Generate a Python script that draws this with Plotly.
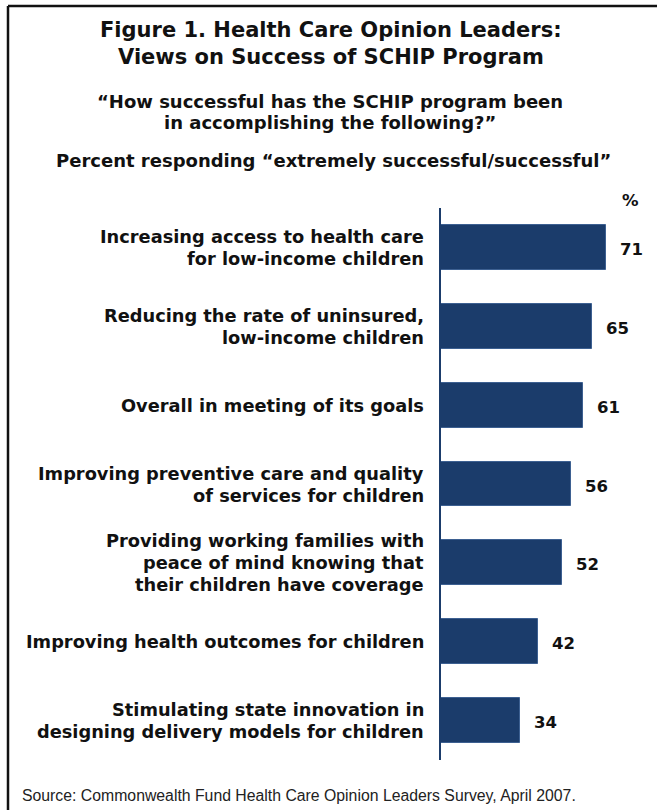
import plotly.graph_objects as go

# Survey items (multi-line labels) and percent answering "extremely successful/successful"
categories = [
    "Increasing access to health care<br>for low-income children",
    "Reducing the rate of uninsured,<br>low-income children",
    "Overall in meeting of its goals",
    "Improving preventive care and quality<br>of services for children",
    "Providing working families with<br>peace of mind knowing that<br>their children have coverage",
    "Improving health outcomes for children",
    "Stimulating state innovation in<br>designing delivery models for children",
]
values = [71, 65, 61, 56, 52, 42, 34]

title_lines = ["Figure 1. Health Care Opinion Leaders:", "Views on Success of SCHIP Program"]
question_lines = ["\u201cHow successful has the SCHIP program been", "in accomplishing the following?\u201d"]
measure_text = "Percent responding \u201cextremely successful/successful\u201d"
unit_text = "%"
source_text = "Source: Commonwealth Fund Health Care Opinion Leaders Survey, April 2007."

W, H = 657, 810
BAR_BLUE = "#1b3c6b"
INK = "#111111"
BOLD_FONT = "DejaVu Sans, Liberation Sans, Arial, sans-serif"
PLAIN_FONT = "Liberation Sans, Arial, sans-serif"


def px_x(x):
    return x / W


def px_y(y):
    return 1 - y / H


fig = go.Figure(
    go.Bar(
        x=values,
        y=categories,
        orientation="h",
        width=0.57,
        marker=dict(color=BAR_BLUE, line=dict(color="#3d6091", width=1)),
        hoverinfo="skip",
    )
)

annotations = []


def stacked_lines(lines, spacing, **common):
    """One annotation per line, centred as a block on the anchor point."""
    n = len(lines)
    for i, line in enumerate(lines):
        shift = ((n - 1) / 2 - i) * spacing
        annotations.append(dict(text=f"<b>{line}</b>", showarrow=False,
                                yanchor="middle", yshift=shift, **common))


# Category labels, right aligned left of the axis
for cat in categories:
    stacked_lines(cat.split("<br>"), 22,
                  x=px_x(426), xref="paper", y=cat, yref="y", xanchor="right",
                  font=dict(family=BOLD_FONT, size=17.8, color=INK))

# Value labels just past each bar end
for cat, v in zip(categories, values):
    annotations.append(dict(
        x=v, xref="x", y=cat, yref="y",
        text=f"<b>{v}</b>", showarrow=False,
        xanchor="left", yanchor="middle", xshift=12, yshift=-2,
        font=dict(family=BOLD_FONT, size=16.5, color=INK),
    ))

# Title block
stacked_lines(title_lines, 27, x=px_x(331), xref="paper", y=px_y(43.5), yref="paper",
              xanchor="center", font=dict(family=BOLD_FONT, size=21, color=INK))
stacked_lines(question_lines, 21.5, x=px_x(330), xref="paper", y=px_y(112), yref="paper",
              xanchor="center", font=dict(family=BOLD_FONT, size=18, color=INK))
stacked_lines([measure_text], 0, x=px_x(333), xref="paper", y=px_y(160), yref="paper",
              xanchor="center", font=dict(family=BOLD_FONT, size=18, color=INK))
stacked_lines([unit_text], 0, x=px_x(630), xref="paper", y=px_y(200), yref="paper",
              xanchor="center", font=dict(family=BOLD_FONT, size=16.5, color=INK))

annotations.append(dict(
    x=px_x(20), xref="paper", y=px_y(795), yref="paper",
    text=source_text, showarrow=False,
    xanchor="left", yanchor="middle",
    font=dict(family=PLAIN_FONT, size=15.8, color="#222222"),
))

# Frame: top and left edges
shapes = [
    dict(type="line", xref="paper", yref="paper",
         x0=px_x(8), y0=px_y(6), x1=1, y1=px_y(6),
         line=dict(color=INK, width=2.5)),
    dict(type="line", xref="paper", yref="paper",
         x0=px_x(8), y0=px_y(6), x1=px_x(8), y1=0,
         line=dict(color=INK, width=2.5)),
]

SCALE = 2.32  # pixels per percentage point
fig.update_layout(
    width=W, height=H,
    margin=dict(l=0, r=0, t=0, b=0),
    paper_bgcolor="white", plot_bgcolor="white",
    showlegend=False,
    annotations=annotations,
    shapes=shapes,
    xaxis=dict(domain=[px_x(441), 1], range=[0, (W - 441) / SCALE],
               visible=False, fixedrange=True),
    yaxis=dict(domain=[px_y(760), px_y(208)],
               categoryorder="array", categoryarray=categories,
               range=[len(categories) - 0.5, -0.5],
               showticklabels=False, ticks="", showgrid=False, zeroline=False,
               showline=True, linecolor=BAR_BLUE, linewidth=2, fixedrange=True),
    bargap=0,
)

fig.write_html("out.html")
